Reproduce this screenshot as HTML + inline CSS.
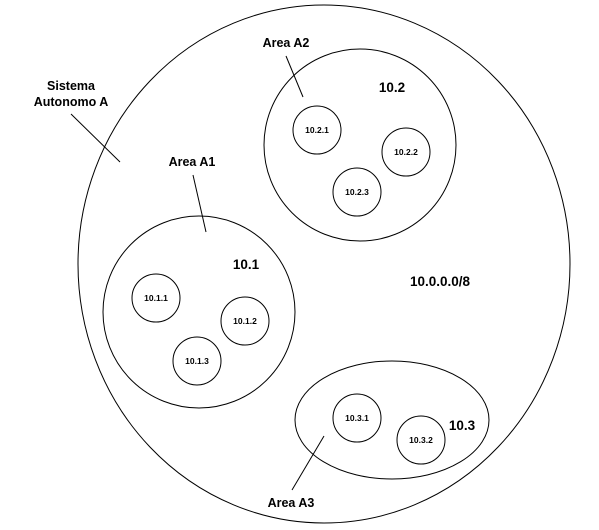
<!DOCTYPE html>
<html><head><style>body{margin:0;background:#fff}svg{display:block}</style></head><body>
<svg width="599" height="530" viewBox="0 0 599 530" xmlns="http://www.w3.org/2000/svg" font-family="Liberation Sans, sans-serif" font-weight="bold" text-anchor="middle" fill="none" stroke="#000" stroke-width="1">
<ellipse cx="324" cy="264" rx="246" ry="259"/>
<circle cx="360" cy="145" r="96"/>
<circle cx="199" cy="312" r="96"/>
<ellipse cx="392" cy="420" rx="97" ry="59"/>
<circle cx="317" cy="130" r="24"/>
<circle cx="406" cy="152" r="24"/>
<circle cx="357" cy="192" r="24"/>
<circle cx="156" cy="298" r="24"/>
<circle cx="245" cy="321" r="24"/>
<circle cx="197" cy="361" r="24"/>
<circle cx="357" cy="418" r="24"/>
<circle cx="421" cy="440" r="24"/>
<line x1="286" y1="56" x2="303" y2="97"/>
<line x1="71" y1="114" x2="120" y2="162"/>
<line x1="193" y1="175" x2="206" y2="232"/>
<line x1="292" y1="490" x2="324" y2="436"/>
<g fill="#000" stroke="none" font-size="12.5">
<text x="286" y="47">Area A2</text>
<text x="71" y="90">Sistema</text>
<text x="71" y="106">Autonomo A</text>
<text x="192" y="166">Area A1</text>
<text x="291" y="507">Area A3</text>
</g>
<g fill="#000" stroke="none" font-size="13.5">
<text x="392" y="92">10.2</text>
<text x="246" y="269">10.1</text>
<text x="440" y="286">10.0.0.0/8</text>
<text x="462" y="430">10.3</text>
</g>
<g fill="#000" stroke="none" font-size="8.5">
<text x="317" y="133">10.2.1</text>
<text x="406" y="155">10.2.2</text>
<text x="357" y="195">10.2.3</text>
<text x="156" y="301">10.1.1</text>
<text x="245" y="324">10.1.2</text>
<text x="197" y="364">10.1.3</text>
<text x="357" y="421">10.3.1</text>
<text x="421" y="443">10.3.2</text>
</g>
</svg>
</body></html>
